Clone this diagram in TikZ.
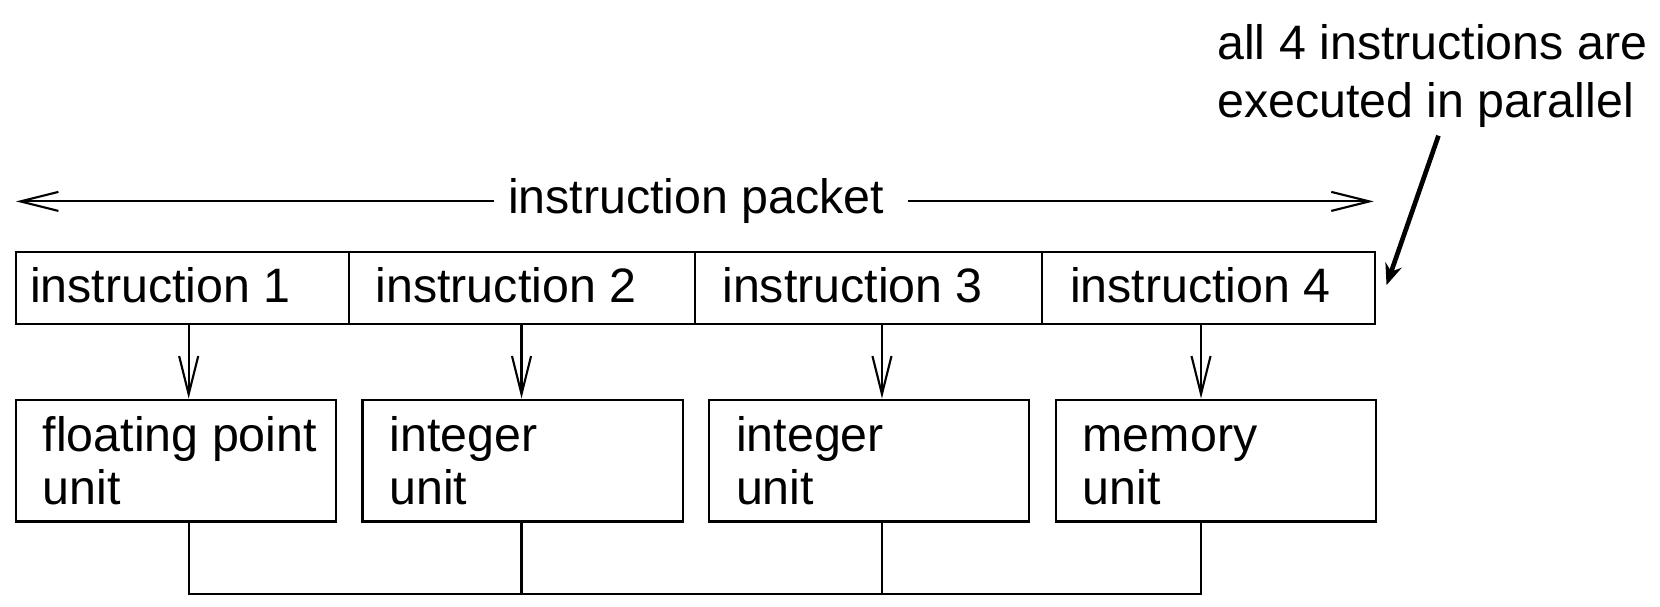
\documentclass[tikz,border=0pt]{standalone}
\usepackage{fontspec}
\setmainfont{Liberation Sans}
\usetikzlibrary{arrows.meta}
\begin{document}
\begin{tikzpicture}[x=0.5pt,y=-0.5pt,
  frame/.style={draw, line width=1pt, inner sep=0pt, anchor=north west},
  lbl/.style={anchor=base west, inner sep=0pt, font=\fontsize{22.8}{27}\selectfont},
  flow/.style={line width=1pt, -{Straight Barb[length=18pt,width=9pt]}},
  wire/.style={line width=1pt},
  big/.style={line width=2.2pt, -{Stealth[length=10pt,width=8pt]}}]
\useasboundingbox (0,0) rectangle (1566,572);

% instruction cells
\node[frame, minimum width=157pt,   minimum height=34pt] (c1) at (14,237) {};
\node[frame, minimum width=163.5pt, minimum height=34pt] (c2) at (328,237) {};
\node[frame, minimum width=163.5pt, minimum height=34pt] (c3) at (655,237) {};
\node[frame, minimum width=157pt,   minimum height=34pt] (c4) at (982,237) {};
\node[lbl] (t1) at (28,285)   {instruction 1};
\node[lbl] (t2) at (354,285)  {instruction 2};
\node[lbl] (t3) at (681,285)  {instruction 3};
\node[lbl] (t4) at (1009,285) {instruction 4};

% units
\node[frame, minimum width=151pt, minimum height=57.5pt] (b1) at (14,376) {};
\node[frame, minimum width=151pt, minimum height=57.5pt] (b2) at (341,376) {};
\node[frame, minimum width=151pt, minimum height=57.5pt] (b3) at (668,376) {};
\node[frame, minimum width=151pt, minimum height=57.5pt] (b4) at (995,376) {};
\node[lbl] (u1a) at (40,426)   {floating point};
\node[lbl] (u1b) at (40,476)   {unit};
\node[lbl] (u2a) at (367,426)  {integer};
\node[lbl] (u2b) at (367,476)  {unit};
\node[lbl] (u3a) at (694,426)  {integer};
\node[lbl] (u3b) at (694,476)  {unit};
\node[lbl] (u4a) at (1021,426) {memory};
\node[lbl] (u4b) at (1021,476) {unit};

% arrow columns
\coordinate (x1) at (178,0);
\coordinate (x2) at (492,0);
\coordinate (x3) at (832,0);
\coordinate (x4) at (1133,0);
\coordinate (bus) at (0,560);

\draw[flow] (c1.south -| x1) -- (b1.north -| x1);
\draw[flow] (c2.south -| x2) -- (b2.north -| x2);
\draw[flow] (c3.south -| x3) -- (b3.north -| x3);
\draw[flow] (c4.south -| x4) -- (b4.north -| x4);

\draw[wire] (b1.south -| x1) -- (x1 |- bus) -- (x4 |- bus) -- (b4.south -| x4);
\draw[wire] (b2.south -| x2) -- (x2 |- bus);
\draw[wire] (b3.south -| x3) -- (x3 |- bus);

% instruction packet
\node[lbl] (pk) at (479,201) {instruction packet};
\coordinate (pl) at (15,190);
\coordinate (pr) at (1296,190);
\draw[flow] (pk.west |- pl) ++(-13,0) -- (pl);
\draw[flow] (pk.east |- pl) ++(22,0) -- (pr);

% annotation
\node[lbl] (n1) at (1148,56) {all 4 instructions are};
\node[lbl] (n2) at (1148,111) {executed in parallel};
\coordinate (as) at (1357,128);
\coordinate (ae) at (1308,269);
\draw[big] (as) -- (ae);
\end{tikzpicture}
\end{document}
